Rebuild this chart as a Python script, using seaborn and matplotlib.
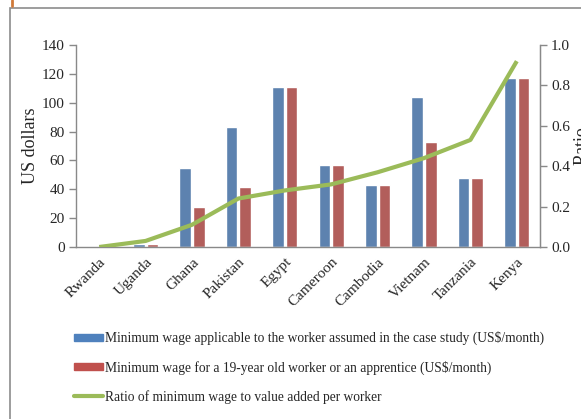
import pandas as pd
import numpy as np
import seaborn as sns
import matplotlib.pyplot as plt
from matplotlib.patches import Rectangle
from matplotlib.lines import Line2D

countries = ['Rwanda', 'Uganda', 'Ghana', 'Pakistan', 'Egypt',
             'Cameroon', 'Cambodia', 'Vietnam', 'Tanzania', 'Kenya']
wage_case = [0, 2, 55, 83, 111, 57, 43, 104, 48, 117]
wage_young = [0, 2, 27.5, 41.5, 111, 57, 43, 73, 48, 117]
ratio = [0.0, 0.03, 0.11, 0.24, 0.28, 0.31, 0.37, 0.44, 0.53, 0.92]

label_case = 'Minimum wage applicable to the worker assumed in the case study (US$/month)'
label_young = 'Minimum wage for a 19-year old worker or an apprentice (US$/month)'
label_ratio = 'Ratio of minimum wage to value added per worker'

blue = '#4F81BD'
red = '#C0504D'
green = '#9BBB59'
grey = '#898989'

sns.set_style('white')
plt.rcParams['font.family'] = ['Liberation Serif', 'DejaVu Serif']

df = pd.DataFrame({
    'country': countries * 2,
    'value': wage_case + wage_young,
    'series': [label_case] * len(countries) + [label_young] * len(countries),
})

fig = plt.figure(figsize=(5.81, 4.19), dpi=100)
# outer chart frame and the small orange mark above it
fig.patches.append(Rectangle((10 / 581, -0.1), 1.2, (419 - 8) / 419 + 0.1,
                             transform=fig.transFigure, fill=False,
                             edgecolor='#8c8c8c', linewidth=1.2))
fig.lines.append(Line2D([12 / 581, 12 / 581], [1.0, 1 - 6 / 419],
                        transform=fig.transFigure, color='#D07A3A', linewidth=2))

ax = fig.add_axes([76 / 581, 1 - 247 / 419, (540 - 76) / 581, (247 - 45) / 419])
sns.barplot(data=df, x='country', y='value', hue='series',
            palette=[blue, red], width=0.58, gap=0.14, ax=ax, legend=False)
ax.set_ylim(0, 140)
ax.set_xlim(-0.5, 9.5)
ax.set_yticks(range(0, 141, 20))
ax.set_xlabel('')
ax.set_ylabel('US dollars', fontsize=13)
ax.yaxis.set_label_coords(-0.08, 0.5)
ax.set_xticks(np.arange(len(countries)))
ax.set_xticklabels(countries, rotation=45, ha='right', rotation_mode='anchor', fontsize=11)
ax.tick_params(axis='x', length=0, pad=6)
ax.set_xticks(np.arange(-0.5, len(countries) + 0.5, 1), minor=True)
ax.tick_params(axis='x', which='minor', length=5, color=grey, width=1)
ax.tick_params(axis='y', labelsize=11, length=5, color=grey, width=1, left=True, pad=3)
for s in ['left', 'bottom', 'right']:
    ax.spines[s].set_color(grey)
    ax.spines[s].set_linewidth(1)
ax.spines['top'].set_visible(False)

ax2 = ax.twinx()
sns.lineplot(x=np.arange(len(countries)), y=ratio, ax=ax2, color=green,
             linewidth=3, solid_joinstyle='round', solid_capstyle='butt')
ax2.set_ylim(0, 1.0)
ax2.set_yticks(np.arange(0, 1.01, 0.2))
ax2.set_yticklabels([f'{v:.1f}' for v in np.arange(0, 1.01, 0.2)])
ax2.tick_params(axis='y', labelsize=11, length=5, color=grey, width=1, right=True, pad=3)
ax2.set_ylabel('Ratio', fontsize=13)
ax2.yaxis.set_label_coords(1.072, 0.5)
for s in ['top', 'left', 'bottom']:
    ax2.spines[s].set_visible(False)
ax2.spines['right'].set_color(grey)

handles = [Rectangle((0, 0), 1, 1, color=blue),
           Rectangle((0, 0), 1, 1, color=red),
           Line2D([0], [0], color=green, linewidth=3)]
fig.legend(handles, [label_case, label_young, label_ratio],
           loc='upper left', bbox_to_anchor=(62 / 581, 1 - 319 / 419),
           frameon=False, fontsize=9.75, handlelength=2.1, handleheight=0.45,
           handletextpad=0.2, labelspacing=1.12)

fig.savefig('out.png', dpi=100)
